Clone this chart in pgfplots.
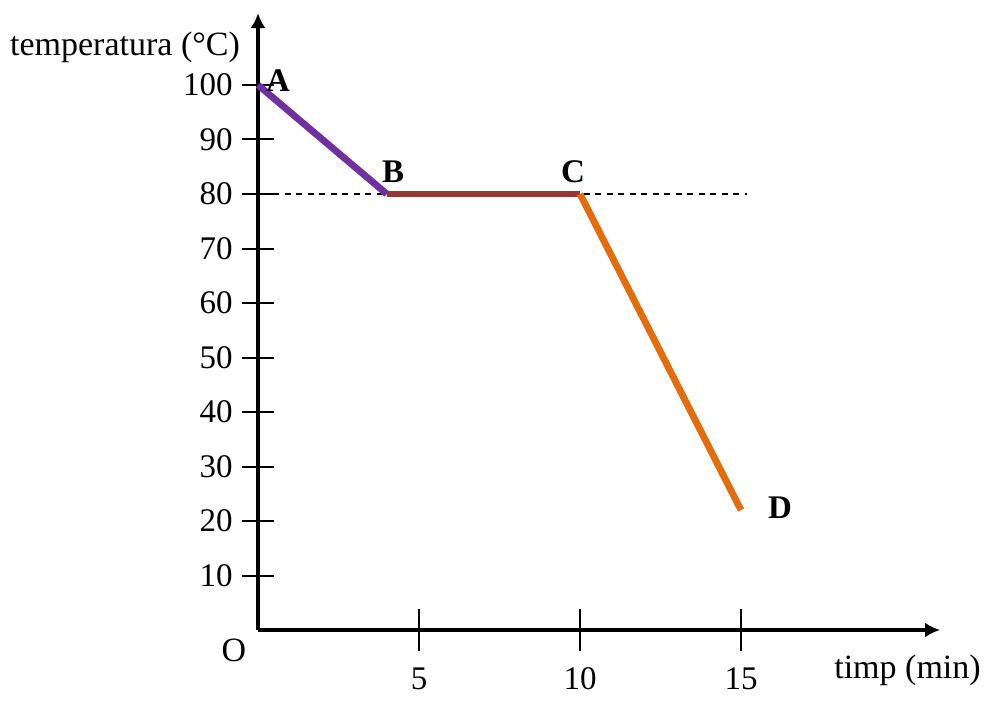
\documentclass[border=0pt]{standalone}
\usepackage{fontspec}
\setmainfont{Liberation Serif}
\usepackage{pgfplots}
\pgfplotsset{compat=1.18}
\usetikzlibrary{arrows.meta}
\definecolor{cAB}{HTML}{7030A0}
\definecolor{cBC}{HTML}{953735}
\definecolor{cCD}{HTML}{E46C0A}
\begin{document}
\begin{tikzpicture}
\path[use as bounding box] (0,0) rectangle (500pt,351.5pt);
\begin{axis}[
  at={(129pt,36.5pt)}, anchor=south west,
  scale only axis,
  x=16.1pt, y=2.725pt,
  xmin=0, xmax=21.18, ymin=0, ymax=113.2,
  axis lines=left,
  axis line style={line width=2pt},
  x axis line style={-{Latex[length=7.5pt,width=7.5pt]}},
  y axis line style={-{Latex[length=7.5pt,width=7.5pt]}},
  xtick={5,10,15},
  ytick={10,20,...,100},
  tick align=center,
  major tick length=16pt,
  tick style={line width=1pt, black},
  xtick style={draw=none},
  /pgf/number format/assume math mode=true,
  tick label style={font=\fontsize{16.5}{20}\selectfont},
  yticklabel style={anchor=east, inner sep=0pt, xshift=-4.5pt},
  xticklabel style={anchor=north, inner sep=0pt, yshift=-10.5pt},
  clip=false,
]
\pgfplotsinvokeforeach{5,10,15}{\draw[line width=1pt] (axis cs:#1,0) ++(0,10.5pt) -- ++(0,-21pt);}
\addplot[black, line width=0.75pt, dash pattern=on 3pt off 2.75pt] coordinates {(0.47,80) (15.2,80)};
\addplot[cAB, line width=3.4pt] coordinates {(0,100) (4,80)};
\addplot[cBC, line width=3.4pt] coordinates {(4,80) (10,80)};
\addplot[cCD, line width=3.4pt] coordinates {(10,80) (15,22)};
\end{axis}
\node[font=\fontsize{17}{20}\selectfont] at (62.5pt,328pt) {temperatura (°C)};
\node[font=\fontsize{17}{20}\selectfont] at (117pt,26.5pt) {O};
\node[font=\fontsize{17}{20}\selectfont] at (453.75pt,16.5pt) {timp (min)};
\begin{scope}[every node/.style={font=\fontsize{16.5}{20}\selectfont\bfseries}]
\node at (139pt,311pt) {A};
\node at (196.5pt,265.5pt) {B};
\node at (286.5pt,265.5pt) {C};
\node at (390pt,97.5pt) {D};
\end{scope}
\end{tikzpicture}
\end{document}
